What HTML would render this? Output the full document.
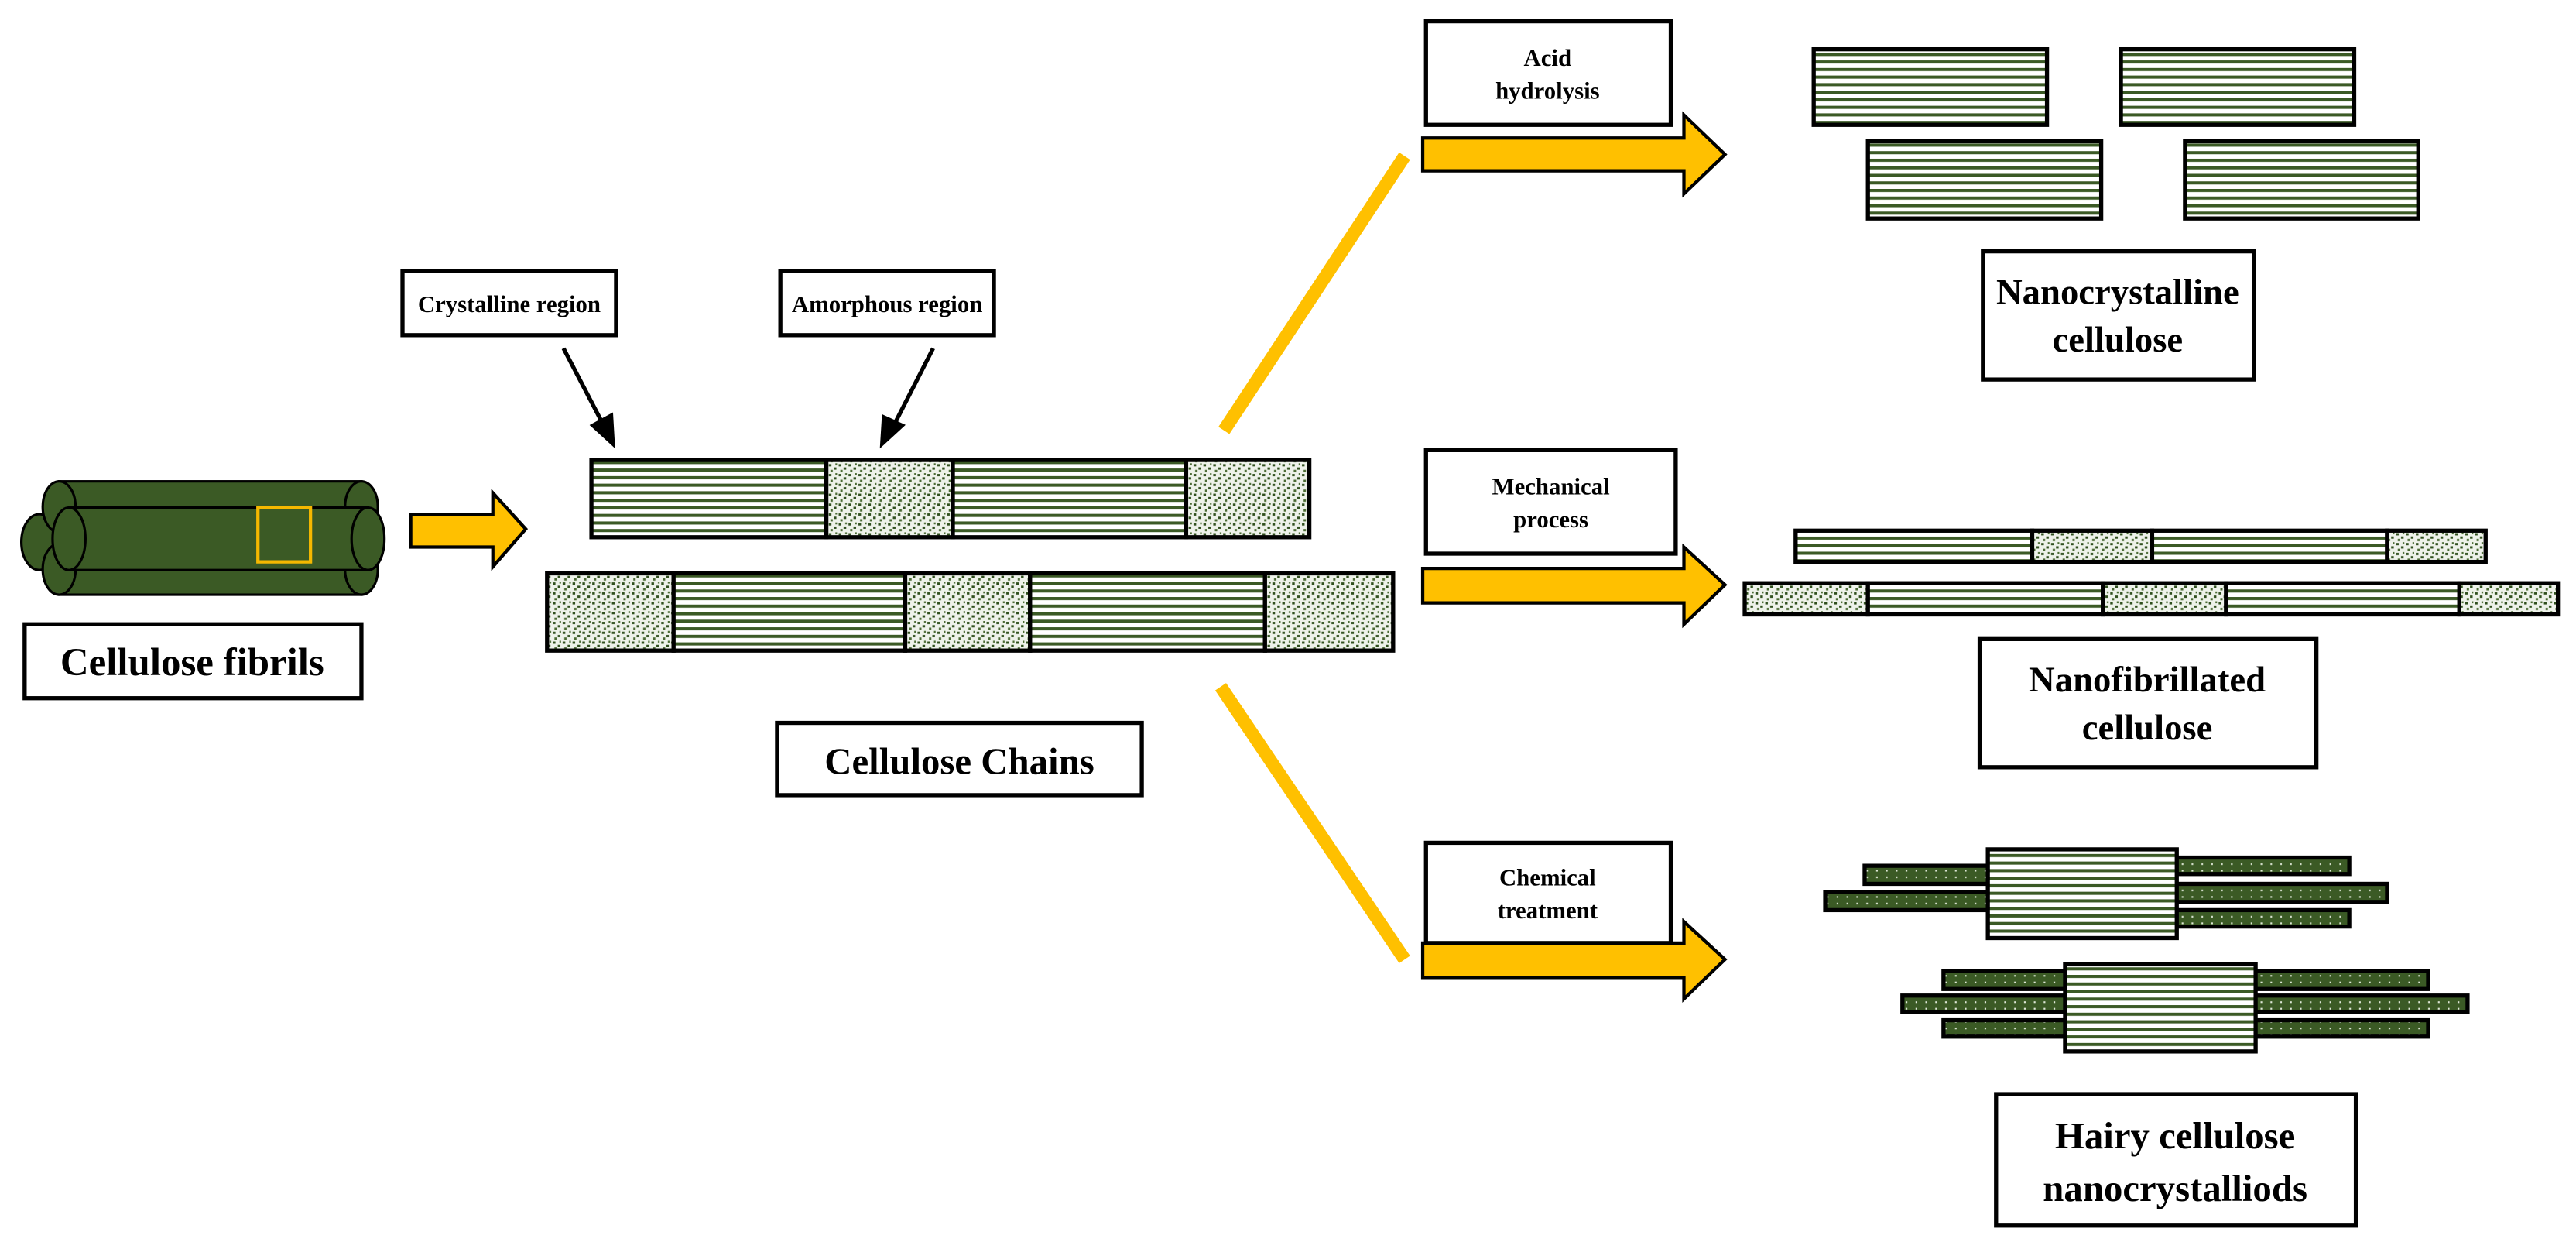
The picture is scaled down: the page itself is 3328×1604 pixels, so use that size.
<!DOCTYPE html>
<html><head><meta charset="utf-8"><style>html,body{margin:0;padding:0;background:#fff}svg{display:block}text{font-family:"Liberation Serif",serif;font-weight:bold;fill:#000}</style></head>
<body>
<svg width="3328" height="1604" viewBox="0 0 1568 756" preserveAspectRatio="none" xmlns="http://www.w3.org/2000/svg">
<defs>
<pattern id="st" width="8" height="4.6" patternUnits="userSpaceOnUse"><rect width="8" height="4.6" fill="#fff"/><rect y="0" width="8" height="1.9" fill="#3b5a25"/></pattern>
<pattern id="am" width="6" height="6" patternUnits="userSpaceOnUse"><rect width="6" height="6" fill="#eef2ea"/><rect x="0.5" y="0.5" width="1.6" height="1.4" fill="#2f4f1d"/><rect x="3.5" y="2.5" width="1.6" height="1.4" fill="#2f4f1d"/><rect x="1.5" y="4" width="1.4" height="1.4" fill="#4a6a33"/><rect x="4.5" y="0" width="1" height="1.2" fill="#4a6a33"/></pattern>
<pattern id="hr" width="6" height="4" patternUnits="userSpaceOnUse"><rect width="6" height="4" fill="#3b5a25"/><rect x="2" y="1.5" width="1" height="1" fill="#dfe8d8"/></pattern>
</defs>
<g stroke="#000" stroke-width="1.5">
<rect x="24" y="313" width="200" height="34" fill="#3b5a25"/>
<ellipse cx="24" cy="330" rx="11" ry="17" fill="#3b5a25"/>
<rect x="36" y="293" width="184" height="31" fill="#3b5a25"/>
<ellipse cx="36" cy="308.5" rx="10" ry="15.5" fill="#3b5a25"/>
<ellipse cx="220" cy="308.5" rx="10" ry="15.5" fill="#3b5a25"/>
<rect x="36" y="331" width="184" height="31" fill="#3b5a25"/>
<ellipse cx="36" cy="346.5" rx="10" ry="15.5" fill="#3b5a25"/>
<ellipse cx="220" cy="346.5" rx="10" ry="15.5" fill="#3b5a25"/>
<rect x="42" y="309" width="182" height="38" fill="#3b5a25"/>
<ellipse cx="42" cy="328" rx="10" ry="19" fill="#3b5a25"/>
<ellipse cx="224" cy="328" rx="10" ry="19" fill="#3b5a25"/>
</g>
<rect x="157" y="309" width="32" height="33" fill="none" stroke="#f5b800" stroke-width="2"/>
<g fill="#FFC000" stroke="#000" stroke-width="2">
<polygon points="250,313 300,313 300,300 320,322 300,345 300,333 250,333"/>
<polygon points="866,84 1025,84 1025,70 1050,94 1025,118 1025,104 866,104"/>
<polygon points="866,346 1025,346 1025,333 1050,356 1025,380 1025,367 866,367"/>
<polygon points="866,574 1025,574 1025,561 1050,584 1025,608 1025,595 866,595"/>
</g>
<line x1="855" y1="95" x2="745" y2="262" stroke="#FFC000" stroke-width="8"/>
<line x1="743" y1="418" x2="855" y2="584" stroke="#FFC000" stroke-width="8"/>
<g stroke="#000" stroke-width="2.5" fill="#000">
<line x1="343" y1="212" x2="368" y2="260"/><polygon points="373,270 361,259 372,253"/>
<line x1="568" y1="212" x2="543" y2="261"/><polygon points="537,270 538,254 549,259"/>
</g>
<g fill="#fff" stroke="#000" stroke-width="2.5">
<rect x="15" y="380" width="205" height="45"/>
<rect x="245" y="165" width="130" height="39"/>
<rect x="475" y="165" width="130" height="39"/>
<rect x="473" y="440" width="222" height="44"/>
<rect x="868" y="13" width="149" height="63"/>
<rect x="868" y="274" width="152" height="63"/>
<rect x="868" y="513" width="149" height="61"/>
<rect x="1207" y="153" width="165" height="78"/>
<rect x="1205" y="389" width="205" height="78"/>
<rect x="1215" y="666" width="219" height="80"/>
</g>
<text x="117" y="411" font-size="24" text-anchor="middle">Cellulose fibrils</text>
<text x="310" y="190" font-size="14.5" text-anchor="middle">Crystalline region</text>
<text x="540" y="190" font-size="14.5" text-anchor="middle">Amorphous  region</text>
<text x="584" y="471" font-size="23" text-anchor="middle">Cellulose Chains</text>
<text x="942" y="40" font-size="14.5" text-anchor="middle">Acid</text>
<text x="942" y="60" font-size="14.5" text-anchor="middle">hydrolysis</text>
<text x="944" y="301" font-size="14.5" text-anchor="middle">Mechanical</text>
<text x="944" y="321" font-size="14.5" text-anchor="middle">process</text>
<text x="942" y="539" font-size="14.5" text-anchor="middle">Chemical</text>
<text x="942" y="559" font-size="14.5" text-anchor="middle">treatment</text>
<text x="1289" y="185" font-size="22" text-anchor="middle">Nanocrystalline</text>
<text x="1289" y="214" font-size="22" text-anchor="middle">cellulose</text>
<text x="1307" y="421" font-size="22" text-anchor="middle">Nanofibrillated</text>
<text x="1307" y="450" font-size="22" text-anchor="middle">cellulose</text>
<text x="1324" y="699" font-size="23" text-anchor="middle">Hairy cellulose</text>
<text x="1324" y="731" font-size="23" text-anchor="middle">nanocrystalliods</text>
<g stroke="#000" stroke-width="2.5">
<rect x="360" y="280" width="143" height="47" fill="url(#st)"/>
<rect x="503" y="280" width="77" height="47" fill="url(#am)"/>
<rect x="580" y="280" width="142" height="47" fill="url(#st)"/>
<rect x="722" y="280" width="75" height="47" fill="url(#am)"/>
<rect x="333" y="349" width="77" height="47" fill="url(#am)"/>
<rect x="410" y="349" width="141" height="47" fill="url(#st)"/>
<rect x="551" y="349" width="76" height="47" fill="url(#am)"/>
<rect x="627" y="349" width="143" height="47" fill="url(#st)"/>
<rect x="770" y="349" width="78" height="47" fill="url(#am)"/>
<rect x="1104" y="30" width="142" height="46" fill="url(#st)"/>
<rect x="1291" y="30" width="142" height="46" fill="url(#st)"/>
<rect x="1137" y="86" width="142" height="47" fill="url(#st)"/>
<rect x="1330" y="86" width="142" height="47" fill="url(#st)"/>
<rect x="1093" y="323" width="144" height="19" fill="url(#st)"/>
<rect x="1237" y="323" width="73" height="19" fill="url(#am)"/>
<rect x="1310" y="323" width="143" height="19" fill="url(#st)"/>
<rect x="1453" y="323" width="60" height="19" fill="url(#am)"/>
<rect x="1062" y="355" width="75" height="19" fill="url(#am)"/>
<rect x="1137" y="355" width="143" height="19" fill="url(#st)"/>
<rect x="1280" y="355" width="75" height="19" fill="url(#am)"/>
<rect x="1355" y="355" width="142" height="19" fill="url(#st)"/>
<rect x="1497" y="355" width="60" height="19" fill="url(#am)"/>
<rect x="1135" y="527" width="77" height="11" fill="url(#hr)"/>
<rect x="1111" y="543" width="101" height="11" fill="url(#hr)"/>
<rect x="1323" y="522" width="107" height="10" fill="url(#hr)"/>
<rect x="1323" y="538" width="130" height="11" fill="url(#hr)"/>
<rect x="1323" y="554" width="107" height="10" fill="url(#hr)"/>
<rect x="1210" y="517" width="115" height="54" fill="url(#st)"/>
<rect x="1183" y="591" width="76" height="11" fill="url(#hr)"/>
<rect x="1158" y="606" width="101" height="10" fill="url(#hr)"/>
<rect x="1183" y="621" width="76" height="10" fill="url(#hr)"/>
<rect x="1371" y="591" width="107" height="11" fill="url(#hr)"/>
<rect x="1371" y="606" width="131" height="10" fill="url(#hr)"/>
<rect x="1371" y="621" width="107" height="10" fill="url(#hr)"/>
<rect x="1257" y="587" width="116" height="53" fill="url(#st)"/>
</g>
</svg>
</body></html>
